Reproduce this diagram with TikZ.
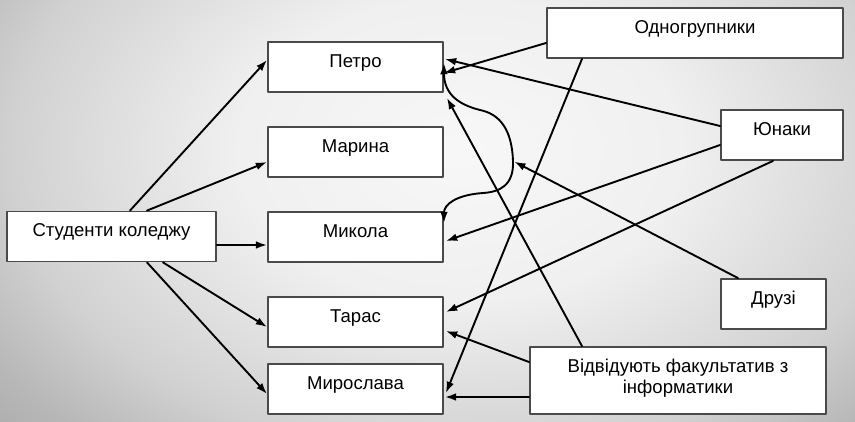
\documentclass[tikz,border=0pt]{standalone}
\usepackage{fontspec}
\setmainfont{Liberation Sans}
\usetikzlibrary{calc,arrows.meta}
\definecolor{boxgray}{HTML}{4A4A4A}
\pgfdeclareradialshading{bgshade}{\pgfpoint{0bp}{0bp}}{color(0bp)=(black!3); color(5bp)=(black!6); color(10bp)=(black!18); color(12.5bp)=(black!28); color(15bp)=(black!35); color(25bp)=(black!38); color(50bp)=(black!38)}
\begin{document}
\begin{tikzpicture}[x=0.025cm,y=-0.025cm,line cap=round,line join=round,
  >={Latex[length=8pt,width=5.5pt]},
  box/.style={draw=boxgray,line width=1.3pt,fill=white,inner sep=0pt,
    text height=0.625cm,text depth=0.625cm,align=center,
    font=\fontsize{13.2pt}{14.9pt}\selectfont},
  link/.style={line width=1.35pt,->}]
  \useasboundingbox (0,0) rectangle (855,421);
  \begin{scope}
    \clip (0,0) rectangle (855,421);
    \shade[shading=bgshade] (460,150) ellipse [x radius=1120, y radius=760];
  \end{scope}
  \node[box,minimum width=5.225cm] (stud) at (111.5,236.5) {Студенти коледжу};
  \node[box,minimum width=4.375cm] (petro) at (355.5,67) {Петро};
  \node[box,minimum width=4.375cm] (maryna) at (355.5,152) {Марина};
  \node[box,minimum width=4.375cm] (mykola) at (355.5,237) {Микола};
  \node[box,minimum width=4.375cm] (taras) at (355.5,322) {Тарас};
  \node[box,minimum width=4.375cm] (myroslava) at (355.5,389) {Мирослава};
  \node[box,minimum width=7.4cm] (odnogr) at (695,33) {Одногрупники};
  \node[box,minimum width=3.05cm] (yunaky) at (782,135) {Юнаки};
  \node[box,minimum width=2.625cm] (druzi) at (773.5,304) {Друзі};
  \node[box,minimum width=7.4cm,text height=1.15cm,text depth=0.525cm] (fakult) at (678,380.5)
    {Відвідують факультатив з\\інформатики};
  \coordinate (bend) at (513,161);
  \draw[link] ($(stud.north)+(18.5,0)$) -- ($(petro.west)+(0,-7)$);
  \draw[link] ($(stud.north)+(35.5,0)$) -- ($(maryna.west)+(0,10)$);
  \draw[link] ($(stud.east)+(0,8.5)$) -- ($(mykola.west)+(0,8)$);
  \draw[link] ($(stud.south)+(51.5,0)$) -- ($(taras.west)+(0,5)$);
  \draw[link] ($(stud.south)+(35.5,0)$) -- ($(myroslava.west)+(0,5)$);
  \draw[link] ($(odnogr.west)+(0,10)$) -- ($(petro.east)+(0,6)$);
  \draw[link] ($(yunaky.west)+(0,-9)$) -- ($(petro.east)+(1,-8)$);
  \draw[link] ($(odnogr.south)+(-113,0)$) -- ($(myroslava.east)+(2,4)$);
  \draw[link] ($(yunaky.west)+(0,10)$) -- ($(mykola.east)+(2,4)$);
  \draw[link] ($(yunaky.south)+(-9,0)$) -- ($(taras.east)+(2,-10)$);
  \draw[link,shorten >=1pt] ($(druzi.north)+(-35.5,0)$) -- (bend);
  \draw[link] ($(fakult.north)+(-96,0)$) -- ($(petro.south east)+(3,5)$);
  \draw[link] ($(fakult.west)+(0,-18.5)$) -- ($(taras.east)+(2,9)$);
  \draw[link] ($(fakult.west)+(0,16.5)$) -- ($(myroslava.east)+(1,8)$);
  \draw[line width=1.35pt,<->] ($(petro.east)+(0,-4)$) .. controls (444,95) and (460,105) .. (480,110)
    .. controls (500,114) and (512,130) .. (bend)
    .. controls (514,185) and (500,192) .. (483,193)
    .. controls (455,195) and (444,205) .. ($(mykola.east)+(0,-14)$);
\end{tikzpicture}
\end{document}
